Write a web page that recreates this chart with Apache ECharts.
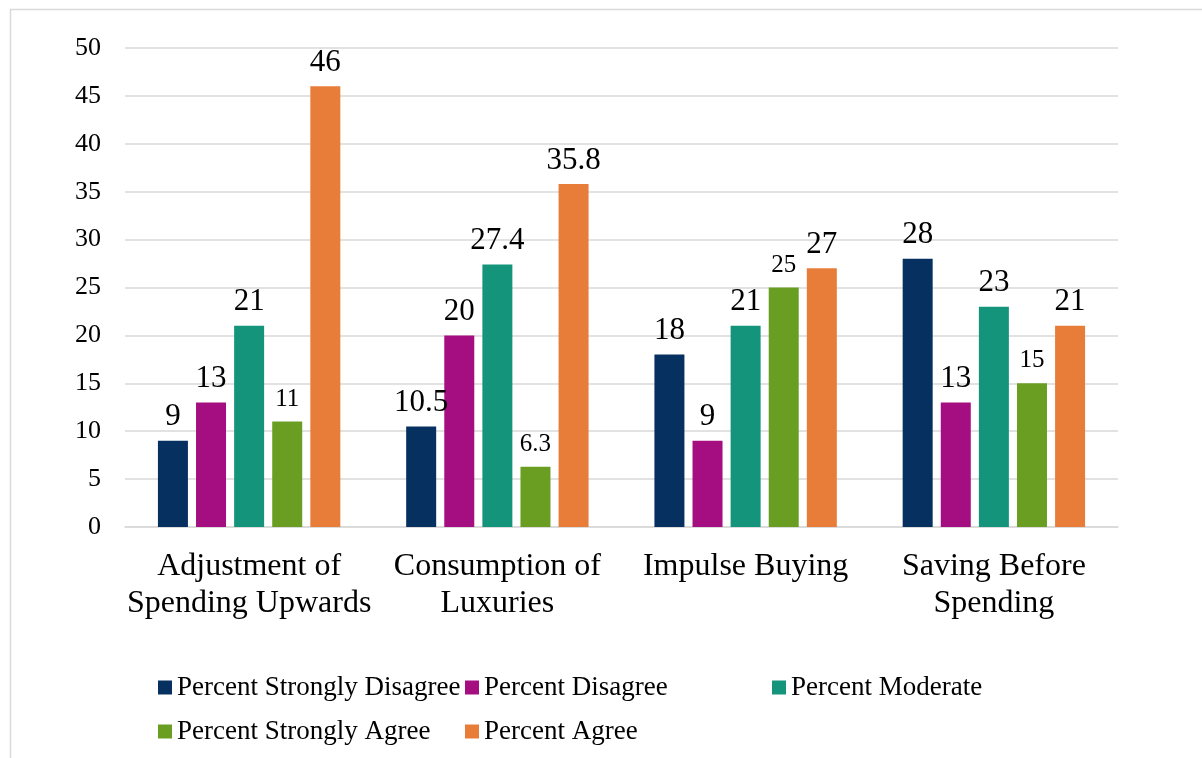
<!DOCTYPE html>
<html>
<head>
<meta charset="utf-8">
<script src="https://cdn.jsdelivr.net/npm/echarts@6/dist/echarts.min.js"></script>
<style>
html,body{margin:0;padding:0;background:#fff;}
#c{width:1202px;height:758px;}
</style>
</head>
<body>
<div id="c"></div>
<script>
var categories = ['Adjustment of\nSpending Upwards', 'Consumption of\nLuxuries', 'Impulse Buying', 'Saving Before\nSpending'];
var seriesNames = ['Percent Strongly Disagree', 'Percent Disagree', 'Percent Moderate', 'Percent Strongly Agree', 'Percent Agree'];
var stronglyDisagree = [9, 10.5, 18, 28];
var disagree = [13, 20, 9, 13];
var moderate = [21, 27.4, 21, 23];
var stronglyAgree = [11, 6.3, 25, 15];
var agree = [46, 35.8, 27, 21];
var yTicks = {min: 0, max: 50, interval: 5};

var colors = ['#06305f', '#a50e80', '#14957b', '#6a9e22', '#e87d3a'];
var values = [stronglyDisagree, disagree, moderate, stronglyAgree, agree];
var labelSizes = [31, 31, 31, 25, 31];
var FONT = '"Liberation Serif", "Times New Roman", serif';

var chart = echarts.init(document.getElementById('c'));

var series = seriesNames.map(function (name, i) {
  return {
    name: name,
    type: 'bar',
    data: values[i],
    barWidth: 30,
    barGap: '27%',
    itemStyle: {color: colors[i]},
    label: {
      show: true,
      position: 'top',
      distance: labelSizes[i] === 25 ? 10 : 8,
      fontFamily: FONT,
      fontSize: labelSizes[i],
      color: '#000'
    }
  };
});

var legendLayout = [
  {left: 158, top: 674},
  {left: 465, top: 674},
  {left: 772, top: 674},
  {left: 158, top: 718},
  {left: 465, top: 718}
];

var legends = seriesNames.map(function (name, i) {
  return {
    data: [name],
    left: legendLayout[i].left,
    top: legendLayout[i].top,
    padding: 0,
    itemWidth: 14,
    itemHeight: 14,
    icon: 'rect',
    selectedMode: false,
    textStyle: {fontFamily: FONT, fontSize: 27, color: '#000', padding: [0, 0, 0, 0]}
  };
});

chart.setOption({
  animation: false,
  backgroundColor: '#fff',
  textStyle: {fontFamily: FONT},
  graphic: [{
    type: 'rect',
    shape: {x: 10.5, y: 9.5, width: 1300, height: 900},
    style: {fill: 'none', stroke: '#d9d9d9', lineWidth: 1.5},
    silent: true,
    z: -10
  }],
  grid: {left: 125, right: 84, top: 48, bottom: 231, containLabel: false},
  legend: legends,
  xAxis: {
    type: 'category',
    data: categories,
    axisLine: {show: true, lineStyle: {color: '#d9d9d9', width: 1.5}},
    axisTick: {show: false},
    axisLabel: {fontFamily: FONT, fontSize: 32, color: '#000', margin: 21, lineHeight: 37, interval: 0}
  },
  yAxis: {
    type: 'value',
    min: yTicks.min,
    max: yTicks.max,
    interval: yTicks.interval,
    axisLine: {show: false},
    axisTick: {show: false},
    splitLine: {lineStyle: {color: '#d9d9d9', width: 1.5}},
    axisLabel: {fontFamily: FONT, fontSize: 26, color: '#000', margin: 24}
  },
  series: series
});
</script>
</body>
</html>
